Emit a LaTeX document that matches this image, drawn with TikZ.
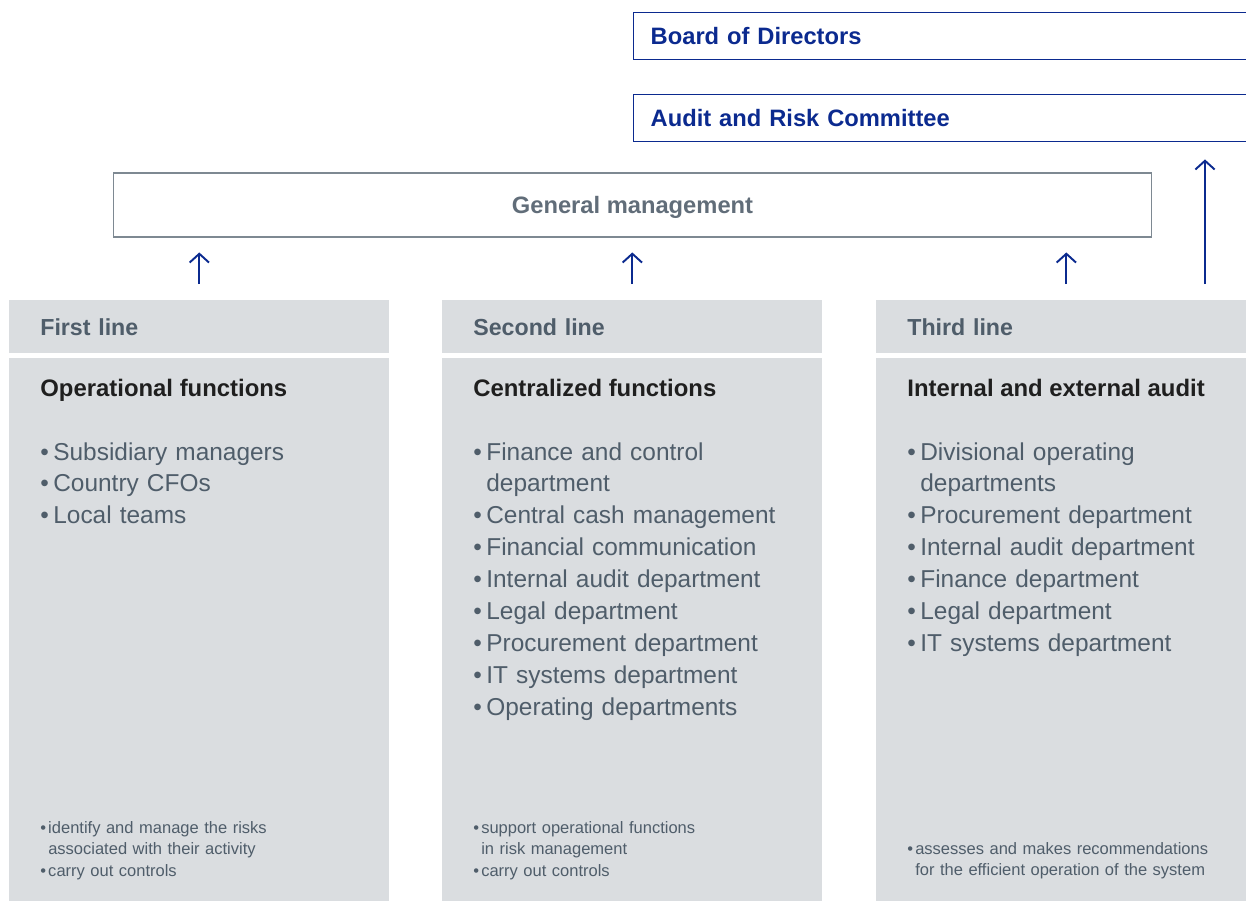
\documentclass[tikz,border=0pt]{standalone}
\usepackage{fontspec}
\setmainfont{Liberation Sans}
\usetikzlibrary{arrows.meta,positioning}

\definecolor{navy}{HTML}{0B2A8F}
\definecolor{panel}{HTML}{DADDE0}
\definecolor{slate}{HTML}{4F5D6A}
\definecolor{frame}{HTML}{7E8992}
\definecolor{ink}{HTML}{1F1F1F}

% bullet line with hanging indent
\newcommand{\bitem}[2][7.4pt]{\hangindent=#1\hangafter=1\noindent\makebox[#1][l]{\textbullet}#2\par}

\tikzset{
  board/.style={draw=navy, line width=0.8pt, anchor=north west, minimum width=13cm, minimum height=0.94cm,
    inner xsep=0.34cm, text width=12.32cm, text depth=0pt, align=left, text=navy, font=\bfseries\fontsize{13.5}{16}\selectfont},
  mgmt/.style={draw=frame, line width=0.6pt, minimum width=20.78cm, minimum height=1.28cm, text depth=0pt,
    text=slate!90, font=\bfseries\fontsize{13.5}{16}\selectfont},
  band/.style={fill=panel, anchor=north west, minimum width=7.6cm, minimum height=1.06cm, inner ysep=0pt,
    inner xsep=0.62cm, text width=6.36cm, align=left, text=slate, font=\bfseries\fontsize{13.2}{16}\selectfont},
  panelbox/.style={fill=panel, anchor=north west, minimum width=7.6cm, minimum height=10.9cm, inner sep=0pt},
  head/.style={anchor=base west, inner sep=0pt, text=ink, font=\bfseries\fontsize{13.6}{16}\selectfont},
  list/.style={anchor=base west, inner sep=0pt, text width=6.8cm, align=left, text=slate,
    font=\fontsize{13.9}{18.2}\selectfont},
  note/.style={anchor=base west, inner sep=0pt, text width=6.8cm, align=left, text=slate,
    font=\fontsize{9.4}{12.5}\selectfont},
  flow/.style={->, navy, line width=1.1pt, shorten <=9.1pt, shorten >=8.5pt}
}

\begin{document}
\begin{tikzpicture}[x=0.02cm, y=-0.02cm, >={Straight Barb[length=5pt,width=11pt]}]
\clip (0,0) rectangle (1246,901);

% committees and management
\node[board] (bod) at (633,12) {Board of Directors};
\node[board] (arc) at (633,94) {Audit and Risk Committee};
\node[mgmt] (gm) at (632.5,205) {General management};

% the three lines of defence
\node[band] (first) at (9,300) {First line};
\node[band] (second) at (442,300) {Second line};
\node[band] (third) at (876,300) {Third line};
\node[panelbox] (firstbody) at (9,358) {};
\node[panelbox] (secondbody) at (442,358) {};
\node[panelbox] (thirdbody) at (876,358) {};

\node[head] (firsthead) at (40,397) {Operational functions};
\node[list] (firstlist) at (40,460) {\bitem{Subsidiary managers}\bitem{Country CFOs}\bitem{Local teams}};
\node[note] (firstnote) at (40,833) {\bitem[4.5pt]{identify and manage the risks\newline associated with their activity}\bitem[4.5pt]{carry out controls}};

\node[head] (secondhead) at (473,397) {Centralized functions};
\node[list] (secondlist) at (473,460) {\bitem{Finance and control\newline department}\bitem{Central cash management}\bitem{Financial communication}%
  \bitem{Internal audit department}\bitem{Legal department}\bitem{Procurement department}%
  \bitem{IT systems department}\bitem{Operating departments}};
\node[note] (secondnote) at (473,833) {\bitem[4.5pt]{support operational functions\newline in risk management}\bitem[4.5pt]{carry out controls}};

\node[head] (thirdhead) at (907,397) {Internal and external audit};
\node[list] (thirdlist) at (907,460) {\bitem{Divisional operating\newline departments}\bitem{Procurement department}%
  \bitem{Internal audit department}\bitem{Finance department}\bitem{Legal department}\bitem{IT systems department}};
\node[note] (thirdnote) at (907,854) {\bitem[4.5pt]{assesses and makes recommendations\newline for the efficient operation of the system}};

% reporting arrows
\foreach \c in {first,second,third}
  \draw[flow] (\c.north) -- (\c.north |- gm.south);
\coordinate (riser) at (1205,300);
\draw[flow, shorten >=9.7pt] (riser) -- (riser |- arc.south);
\end{tikzpicture}
\end{document}
